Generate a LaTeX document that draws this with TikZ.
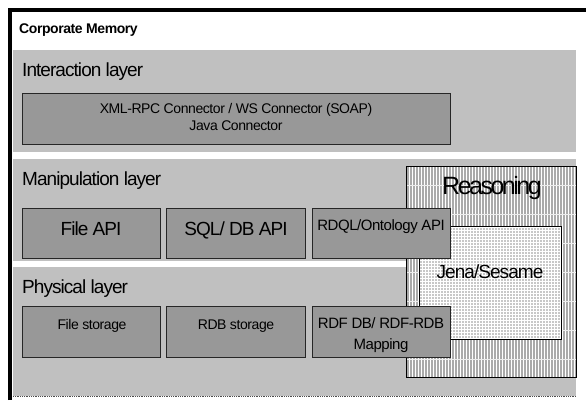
\documentclass[tikz,border=0pt]{standalone}
\usepackage{fontspec}
\setmainfont{Liberation Sans}
\newfontfamily\tightfont[LetterSpace=-5]{Liberation Sans}
\newfontfamily\tighterfont[LetterSpace=-10]{Liberation Sans}
\newfontfamily\smallfont[LetterSpace=-3]{Liberation Sans}
\definecolor{layerbg}{RGB}{192,192,192}
\definecolor{boxbg}{RGB}{152,152,152}
\definecolor{reasbg}{RGB}{170,170,170}
\definecolor{jenabg}{RGB}{200,200,200}
\tikzset{
  layer/.style={fill=layerbg, draw=none, anchor=north west, inner sep=0pt},
  compbox/.style={fill=boxbg, draw=black!85, line width=0.8bp, anchor=north west, inner sep=0pt},
  bigtxt/.style={font=\tightfont\fontsize{19bp}{21bp}\selectfont, inner sep=0pt},
  midtxt/.style={font=\smallfont\fontsize{15bp}{21bp}\selectfont, inner sep=0pt, align=center},
  smalltxt/.style={font=\smallfont\fontsize{14bp}{17bp}\selectfont, inner sep=0pt, align=center},
}
\begin{document}
\begin{tikzpicture}[x=1bp, y=-1bp]
\useasboundingbox (0,0) rectangle (586,400);
\fill[white] (0,0) rectangle (586,400);
% outer frame
\draw[line width=3.2bp] (10,400) -- (10,10) -- (586,10);
\node[anchor=base west, inner sep=0pt, font=\bfseries\smallfont\fontsize{14bp}{16bp}\selectfont] (title) at (19,33) {Corporate Memory};
% layers
\node[layer, minimum width=563bp, minimum height=102bp] (inter) at (13,50) {};
\node[layer, minimum width=563bp, minimum height=102bp] (manip) at (13,159) {};
\node[layer, minimum width=563bp, minimum height=129bp] (phys) at (13,267) {};
\draw[densely dotted, black!70, line width=0.8bp] (phys.south west) -- (phys.south east);
\node[bigtxt, anchor=base west] (interlbl) at (22,76) {Interaction layer};
\node[bigtxt, anchor=base west] (maniplbl) at (22,185) {Manipulation layer};
\node[bigtxt, anchor=base west] (physlbl) at (22,293) {Physical layer};
% interaction box
\node[compbox, minimum width=428bp, minimum height=51bp] (conn) at (22,93) {};
\node[smalltxt, anchor=base] (conntxt) at (236,130) {XML-RPC Connector / WS Connector (SOAP)\\Java Connector};
% reasoning
\node[anchor=north west, inner sep=0pt, minimum width=170bp, minimum height=211bp, fill=reasbg] (reas) at (406,166) {};
\begin{scope}
\clip (reas.north west) rectangle (reas.south east);
\foreach \i in {0,...,57} {\draw[white, line width=0.9bp] (406.5+3*\i,166) -- (406.5+3*\i,377);}
\foreach \j in {0,...,7} {\draw[white!85!gray, line width=1bp] (406,185+29*\j) -- (576,185+29*\j);}
\end{scope}
\draw[black, line width=0.8bp] (reas.north west) rectangle (reas.south east);
\node[font=\tighterfont\fontsize{25bp}{27bp}\selectfont, inner sep=0pt, anchor=base] (reastxt) at (492,194) {Reasoning};
\node[anchor=north west, inner sep=0pt, minimum width=142bp, minimum height=113bp, fill=jenabg] (jena) at (419,226) {};
\begin{scope}
\clip (jena.north west) rectangle (jena.south east);
\foreach \i in {0,...,48} {\draw[white, line width=0.7bp] (419.5+3*\i,226) -- (419.5+3*\i,339);}
\foreach \j in {0,...,38} {\draw[white, line width=0.7bp] (419,227.5+3*\j) -- (561,227.5+3*\j);}
\end{scope}
\draw[black, line width=0.8bp] (jena.north west) rectangle (jena.south east);
\node[bigtxt, anchor=base] (jenatxt) at (490,278) {Jena/Sesame};
% manipulation boxes
\node[compbox, minimum width=138bp, minimum height=50bp] (fileapi) at (22,208) {};
\node[compbox, minimum width=139bp, minimum height=50bp] (sqlapi) at (166,208) {};
\node[compbox, minimum width=138bp, minimum height=50bp] (rdqlapi) at (312,208) {};
\node[bigtxt, anchor=base] (fileapitxt) at (91,235) {File API};
\node[bigtxt, anchor=base] (sqlapitxt) at (236,235) {SQL/ DB API};
\node[midtxt, anchor=base] (rdqltxt) at (381,230) {RDQL/Ontology API};
% physical boxes
\node[compbox, minimum width=138bp, minimum height=51bp] (filest) at (22,306) {};
\node[compbox, minimum width=139bp, minimum height=51bp] (rdbst) at (166,306) {};
\node[compbox, minimum width=138bp, minimum height=51bp] (rdfdb) at (312,306) {};
\node[smalltxt, anchor=base] (filesttxt) at (92,329) {File storage};
\node[smalltxt, anchor=base] (rdbsttxt) at (236,329) {RDB storage};
\node[midtxt, anchor=base] (rdfdbtxt) at (381,349) {RDF DB/ RDF-RDB\\Mapping};
\end{tikzpicture}
\end{document}
